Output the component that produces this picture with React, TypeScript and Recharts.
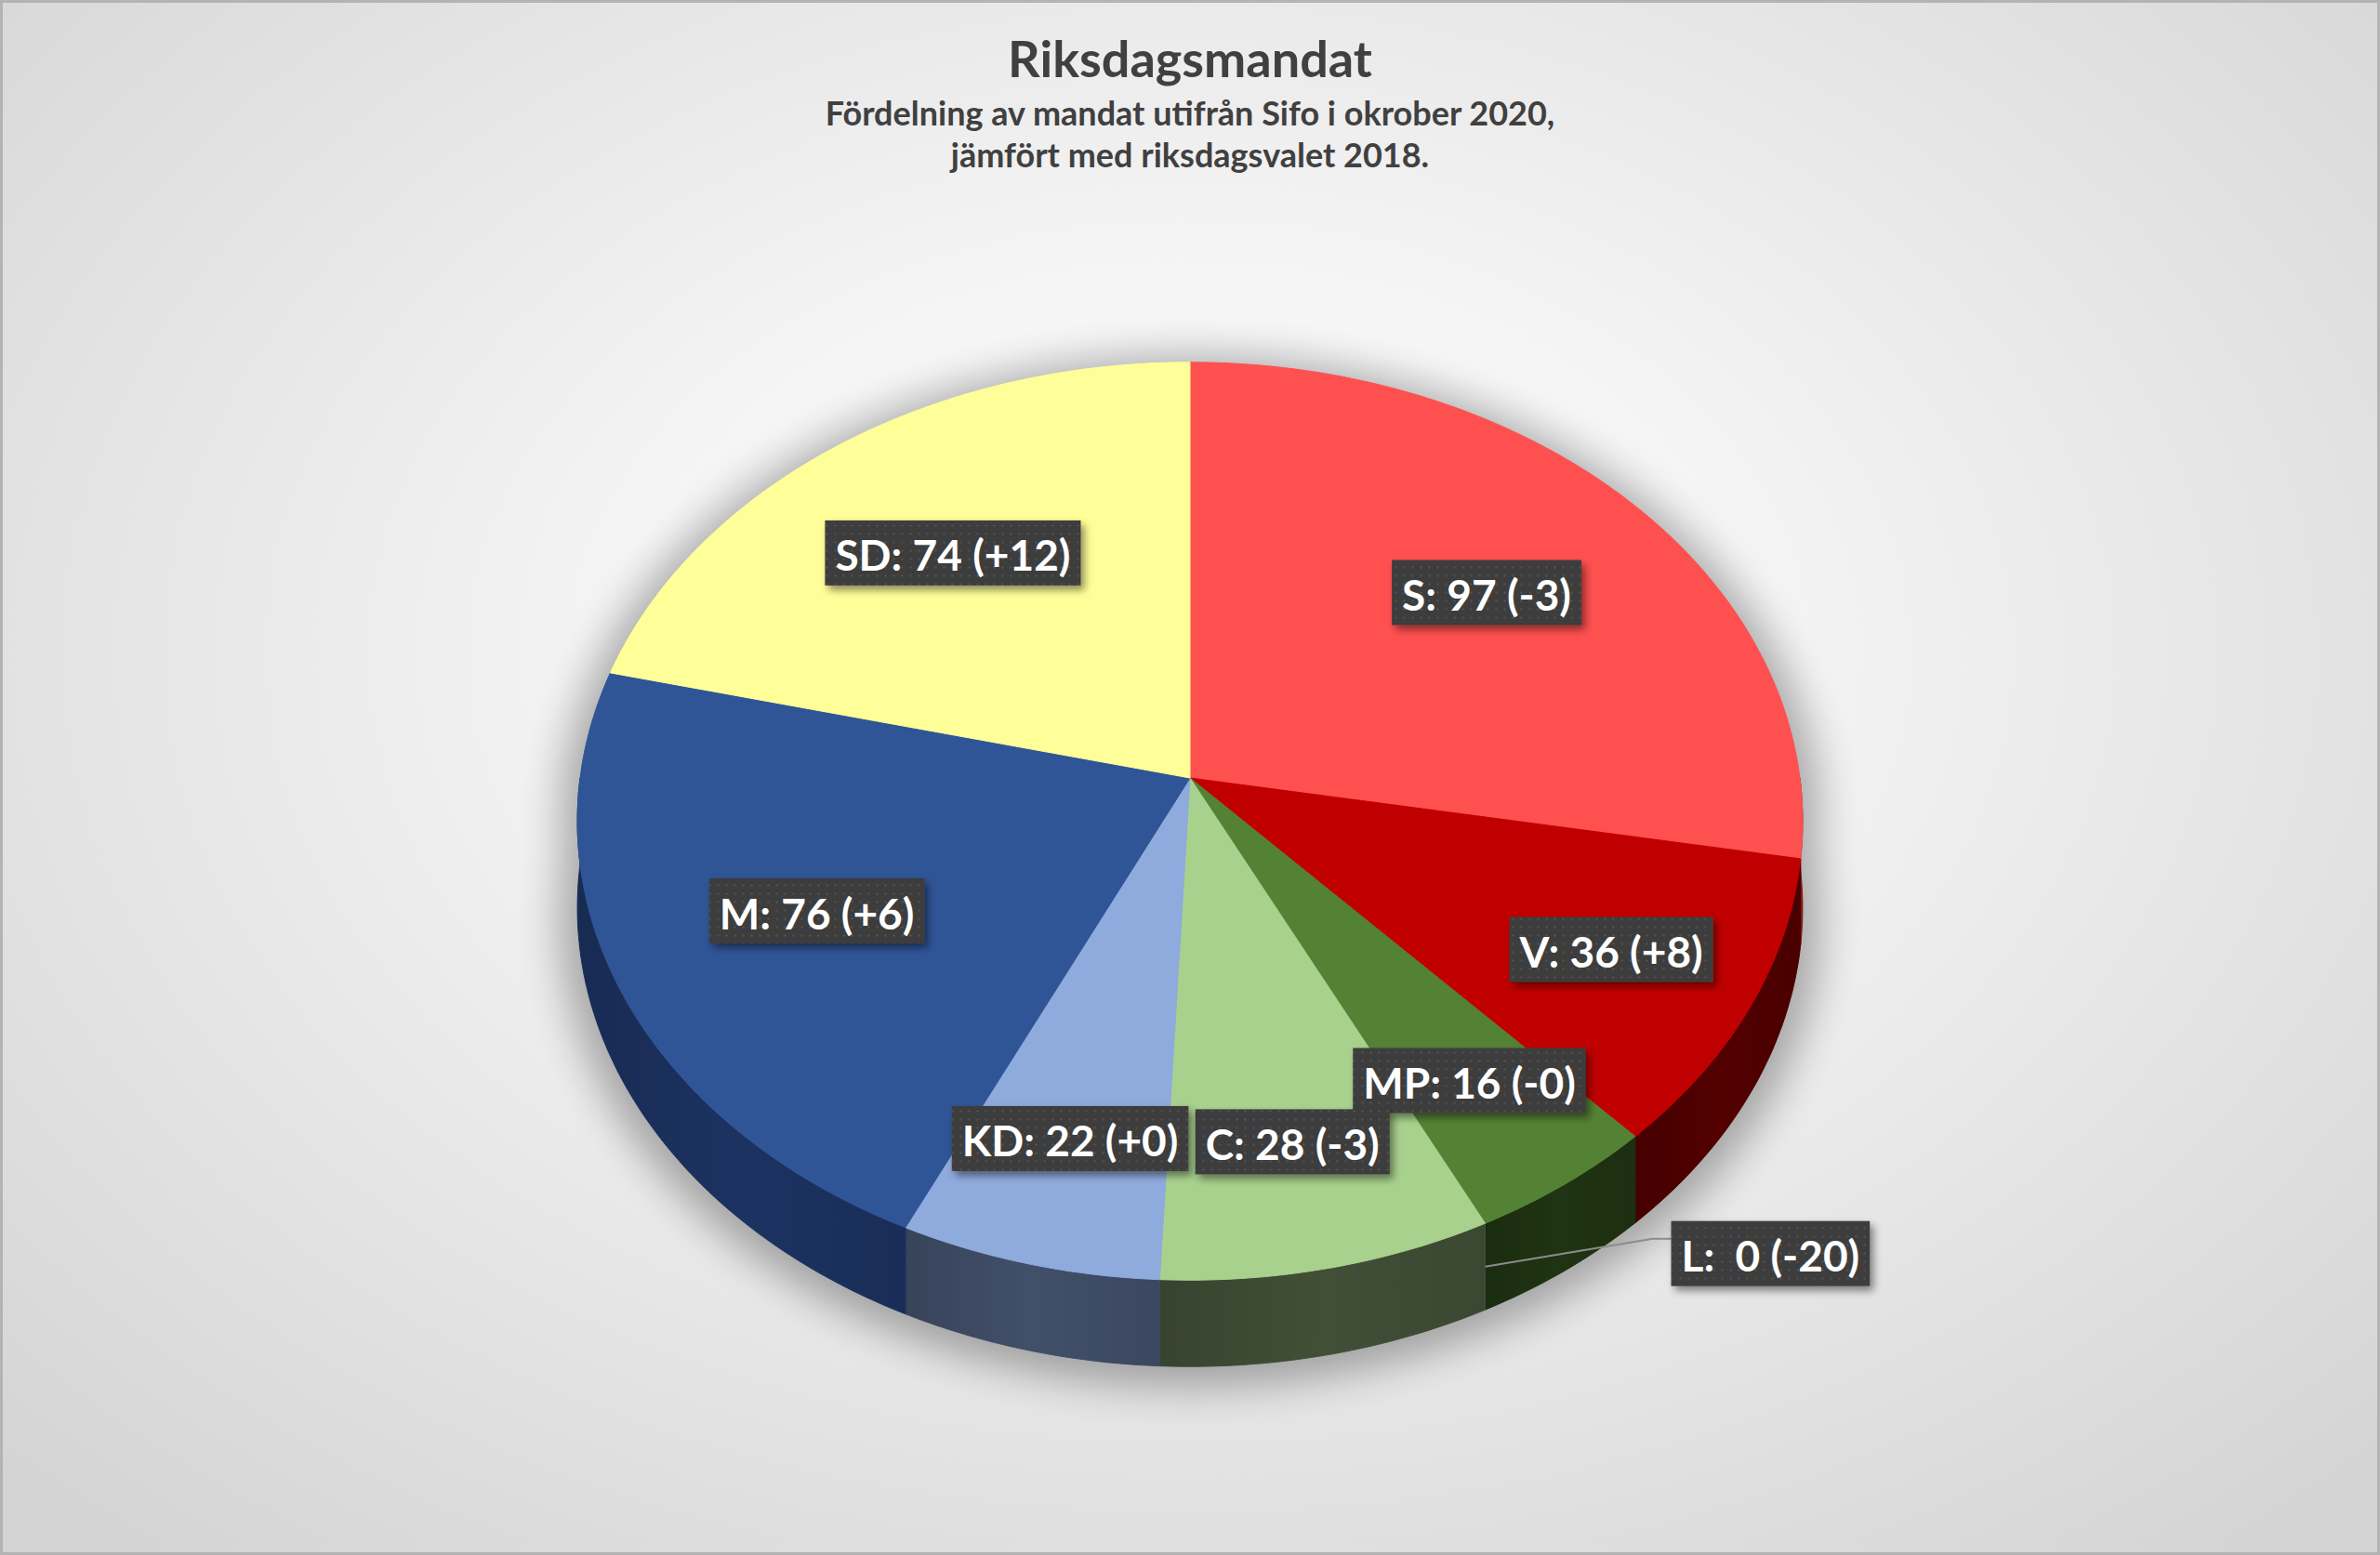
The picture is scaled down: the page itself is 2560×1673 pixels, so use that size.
import { PieChart, Pie } from 'recharts'

const PARTIES = ['S', 'V', 'MP', 'L', 'C', 'KD', 'M', 'SD']
const SEATS = [97, 36, 16, 0, 28, 22, 76, 74]
const CHANGES = ['-3', '+8', '-0', '-20', '-3', '+0', '+6', '+12']
const TOP_COLORS = ['#FF5050', '#C00000', '#548235', '#FFC000', '#A9D18E', '#8FAADC', '#2F5597', '#FFFF99']
const SIDE_COLORS = ['#8a1c1c', '#520000', '#1f3412', '#7a5c00', '#414f37', '#414f69', '#1c3261', '#80803d']

const TITLE = 'Riksdagsmandat'
const SUBTITLE = ['Fördelning av mandat utifrån Sifo i okrober 2020,', 'jämfört med riksdagsvalet 2018.']

const W = 2560
const H = 1673
const FONT = 'Lato, "Open Sans", sans-serif'
const RAD = Math.PI / 180
const KB = 0.746 // vertical squash of the tilted disc
const P = 0.0942 // perspective strength (back is smaller)
const DEPTH = 93
const LABEL_SIZE = 46

const data = PARTIES.map((name, i) => ({
  name,
  value: SEATS[i],
  change: CHANGES[i],
  top: TOP_COLORS[i],
  side: SIDE_COLORS[i]
}))

let ctx: CanvasRenderingContext2D | null = null
function measure(text: string) {
  if (!ctx) ctx = document.createElement('canvas').getContext('2d')
  if (!ctx) return text.length * LABEL_SIZE * 0.5
  ctx.font = `bold ${LABEL_SIZE}px ${FONT}`
  return ctx.measureText(text).width
}

// project a point of the flat disc (angle a, radius fraction f) onto the screen
function proj(cx: number, cy: number, r: number, a: number, f = 1, dy = 0) {
  const s = Math.sin(a * RAD)
  const d = 1 + P * f * s
  return [cx + (r * f * Math.cos(a * RAD)) / d, cy - (r * KB * f * s) / d + dy]
}

function rim(cx: number, cy: number, r: number, from: number, to: number, dy = 0) {
  const n = Math.max(2, Math.ceil(Math.abs(from - to)))
  const pts: string[] = []
  for (let i = 0; i <= n; i++) {
    const [x, y] = proj(cx, cy, r, from + ((to - from) * i) / n, 1, dy)
    pts.push(`${x.toFixed(1)},${y.toFixed(1)}`)
  }
  return pts
}

function TopSlice(props: any) {
  const { cx, cy, outerRadius: r, startAngle: s, endAngle: e } = props
  const entry = props.payload ?? props
  if (Math.abs(s - e) < 1e-6) return <g />
  const d = `M${cx},${cy} L${rim(cx, cy, r, s, e).join(' L')} Z`
  return <path d={d} fill={entry.top} stroke={entry.top} strokeWidth={1} strokeLinejoin="round" />
}

function SideSlice(props: any) {
  const { cx, cy, outerRadius: r, startAngle: s, endAngle: e, index } = props
  const entry = props.payload ?? props
  const hi = Math.min(Math.max(s, e), 0)
  const lo = Math.max(Math.min(s, e), -180)
  let shadow = null
  if (index === 0) {
    const top = rim(cx, cy - 10, r * 1.03, 180, 0)
    const bottom = rim(cx, cy - 10, r * 1.03, 0, -180, DEPTH)
    shadow = (
      <path
        d={`M${top.join(' L')} L${bottom.join(' L')} Z`}
        fill="#000"
        opacity={0.3}
        filter="url(#pieShadow)"
        transform="translate(0,16)"
      />
    )
  }
  if (hi - lo <= 0) return <g>{shadow}</g>
  const upper = rim(cx, cy, r, hi, lo)
  const lower = rim(cx, cy, r, lo, hi, DEPTH)
  const d = `M${upper.join(' L')} L${lower.join(' L')} Z`
  return (
    <g>
      {shadow}
      <path d={d} fill={entry.side} stroke={entry.side} strokeWidth={1} />
      <path d={d} fill="url(#sideShade)" />
    </g>
  )
}

function LabelBox({ x, y, text, anchor }: { x: number; y: number; text: string; anchor: 'middle' | 'start' }) {
  const pad = 11
  const bw = measure(text) + pad * 2
  const bh = 70
  const left = anchor === 'middle' ? x - bw / 2 : x
  return (
    <g>
      <rect x={left} y={y - bh / 2} width={bw} height={bh} fill="url(#dots)" filter="url(#boxShadow)" />
      <text
        x={left + bw / 2}
        y={y + 2}
        textAnchor="middle"
        dominantBaseline="central"
        fill="#ffffff"
        fontFamily={FONT}
        fontWeight={700}
        fontSize={LABEL_SIZE}
        style={{ whiteSpace: 'pre' }}
      >
        {text}
      </text>
    </g>
  )
}

function renderLabel(props: any) {
  const { cx, cy, midAngle, outerRadius: r, percent, index } = props
  const text = `${PARTIES[index]}: ${String(SEATS[index]).padStart(2, ' ')} (${CHANGES[index]})`
  if (SEATS[index] === 0) {
    const [sx, sy] = proj(cx, cy, r, midAngle, 1, DEPTH * 0.5)
    const ex = sx + 180
    const ey = sy - 30
    return (
      <g>
        <polyline points={`${sx},${sy} ${ex},${ey} ${ex + 20},${ey}`} fill="none" stroke="#8c8c8c" strokeWidth={2} />
        <LabelBox x={ex + 20} y={ey + 16} text={text} anchor="start" />
      </g>
    )
  }
  const f = percent > 0.2 ? 0.66 : 0.76
  const [x, y] = proj(cx, cy, r, midAngle, f)
  return <LabelBox x={x} y={y} text={text} anchor="middle" />
}

export default function App() {
  return (
    <div
      style={{
        position: 'absolute',
        left: 0,
        top: 0,
        width: W,
        height: H,
        boxSizing: 'border-box',
        border: '3px solid #b3b3b3',
        background: 'radial-gradient(ellipse 70% 75% at 50% 42%, #ffffff 0%, #f4f4f4 35%, #d4d4d4 100%)',
        overflow: 'hidden'
      }}
    >
      <svg width={0} height={0} style={{ position: 'absolute' }}>
        <defs>
          <pattern id="dots" width={9} height={9} patternUnits="userSpaceOnUse">
            <rect width={9} height={9} fill="#3d3d3d" />
            <circle cx={4.5} cy={4.5} r={1.1} fill="#575757" />
          </pattern>
          <filter id="boxShadow" x="-20%" y="-30%" width="140%" height="170%">
            <feDropShadow dx={4} dy={5} stdDeviation={4} floodColor="#000" floodOpacity={0.45} />
          </filter>
          <filter id="pieShadow" x="-20%" y="-20%" width="140%" height="140%">
            <feGaussianBlur stdDeviation={22} />
          </filter>
          <linearGradient id="sideShade" x1="0" y1="0" x2="1" y2="0">
            <stop offset="0%" stopColor="#000" stopOpacity={0.15} />
            <stop offset="50%" stopColor="#000" stopOpacity={0} />
            <stop offset="100%" stopColor="#000" stopOpacity={0.1} />
          </linearGradient>
        </defs>
      </svg>
      <div style={{ position: 'absolute', left: 0, top: 0 }}>
        <PieChart width={W - 6} height={H - 6} margin={{ top: 0, right: 0, bottom: 0, left: 0 }}>
          <Pie
            data={data}
            dataKey="value"
            nameKey="name"
            cx={1277}
            cy={834}
            outerRadius={656}
            startAngle={90}
            endAngle={-270}
            stroke="none"
            shape={SideSlice}
            inactiveShape={SideSlice}
            activeShape={SideSlice}
            isAnimationActive={false}
          />
          <Pie
            data={data}
            dataKey="value"
            nameKey="name"
            cx={1277}
            cy={834}
            outerRadius={656}
            startAngle={90}
            endAngle={-270}
            stroke="none"
            shape={TopSlice}
            inactiveShape={TopSlice}
            activeShape={TopSlice}
            label={renderLabel}
            labelLine={false}
            isAnimationActive={false}
          />
        </PieChart>
      </div>
      <svg width={W - 6} height={H - 6} style={{ position: 'absolute', left: 0, top: 0, pointerEvents: 'none' }}>
        <text x={1277} y={80} textAnchor="middle" fill="#404040" fontFamily={FONT} fontWeight={700} fontSize={54}>
          {TITLE}
        </text>
        {SUBTITLE.map((line, i) => (
          <text
            key={line}
            x={1277}
            y={132 + i * 45}
            textAnchor="middle"
            fill="#404040"
            fontFamily={FONT}
            fontWeight={700}
            fontSize={36}
          >
            {line}
          </text>
        ))}
      </svg>
    </div>
  )
}
